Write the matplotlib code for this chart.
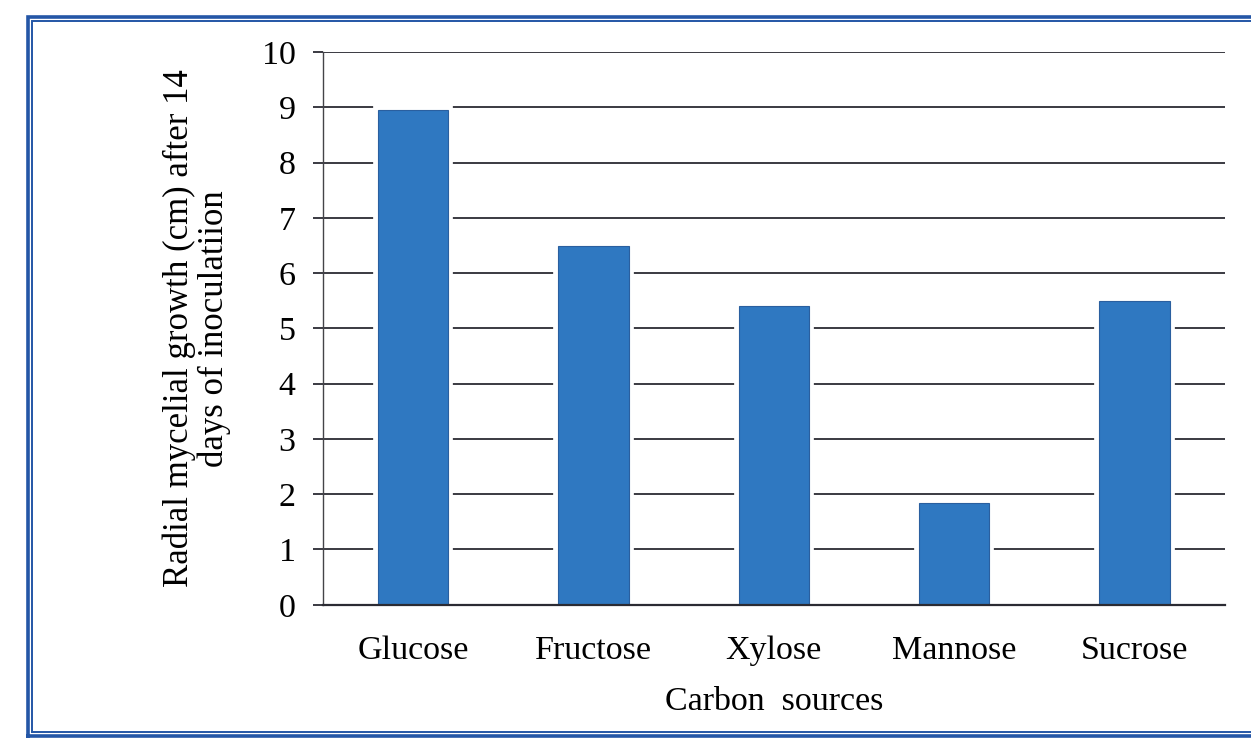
import matplotlib
matplotlib.use("Agg")
import matplotlib.pyplot as plt
from matplotlib.lines import Line2D

# Mycelial growth by carbon source
categories = ["Glucose", "Fructose", "Xylose", "Mannose", "Sucrose"]
growth_cm = [8.95, 6.5, 5.4, 1.85, 5.5]
y_ticks = [0, 1, 2, 3, 4, 5, 6, 7, 8, 9, 10]

plt.rcParams["font.family"] = ["Liberation Serif", "DejaVu Serif"]

fig = plt.figure(figsize=(12.51, 7.55), dpi=100)
fig.patch.set_facecolor("white")
ax = fig.add_axes([0.258, 0.199, 0.721, 0.732])

x = list(range(len(categories)))
bar_w = 0.39
grid_col = "#2b2b33"
fs = 24.5

# gridlines
for t in y_ticks:
    ax.axhline(t, color=grid_col, lw=1.3, zorder=1)

# white halo behind each bar so gridlines stop short of it
ax.bar(x, growth_cm, width=bar_w, color="white", edgecolor="white",
       linewidth=7, zorder=2)
ax.bar(x, growth_cm, width=bar_w, color="#2f78c1", edgecolor="#2a5f9f",
       linewidth=0.8, zorder=3)

ax.set_xlim(-0.5, len(categories) - 0.5)
ax.set_ylim(0, 10)
ax.set_yticks(y_ticks)
ax.set_xticks(x)
ax.set_xticklabels(categories)

ax.tick_params(axis="y", direction="out", length=7.5, width=1.3,
               color=grid_col, labelsize=fs, pad=12)
ax.tick_params(axis="x", length=0, labelsize=fs, pad=22)

for s in ("top", "right"):
    ax.spines[s].set_visible(False)
ax.spines["left"].set_color("#444448")
ax.spines["left"].set_linewidth(1.0)
ax.spines["bottom"].set_color(grid_col)
ax.spines["bottom"].set_linewidth(1.6)
ax.spines["bottom"].set_zorder(4)

ax.set_ylabel("Radial mycelial growth (cm) after 14\ndays of inoculatiion",
              fontsize=25, linespacing=1.08, labelpad=22)
ax.set_xlabel("Carbon  sources", fontsize=fs, labelpad=15)

# double blue border around the figure
border_col = "#2456a6"
for off, lw in ((0.0, 2.6), (0.0035, 1.4)):
    xl, yt, yb = 0.022 + off, 0.978 - off * 1.6, 0.025 + off * 1.6
    fig.add_artist(Line2D([xl, xl, 1.02, 1.02, xl], [yb, yt, yt, yb, yb],
                          transform=fig.transFigure, color=border_col,
                          lw=lw, solid_joinstyle="miter"))

fig.savefig("out.png", dpi=100, facecolor="white")
